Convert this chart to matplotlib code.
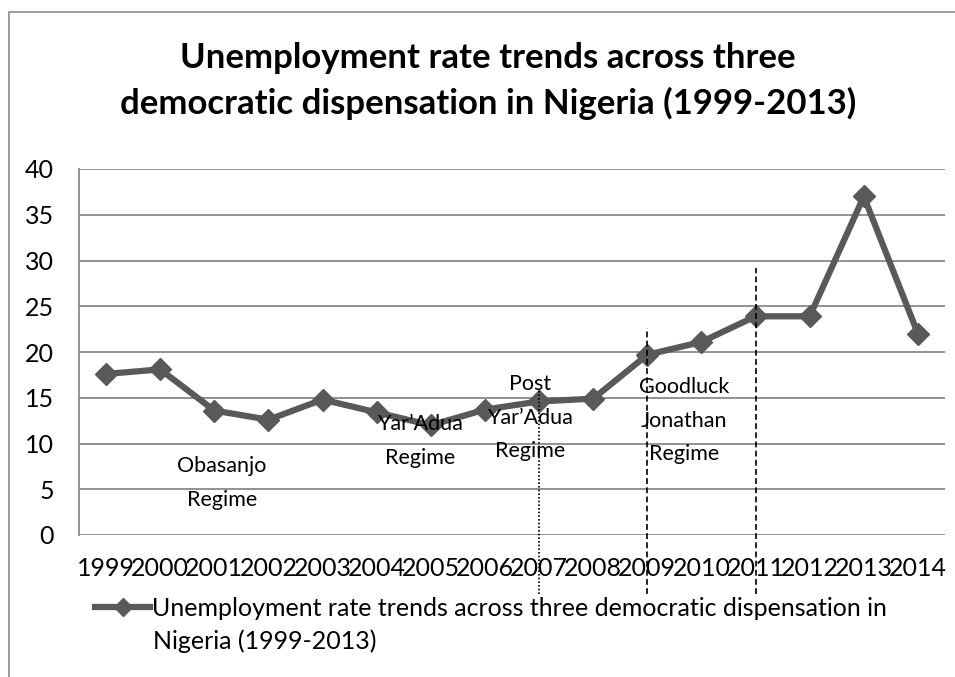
import numpy as np
import matplotlib
matplotlib.use("Agg")
import matplotlib.pyplot as plt
from matplotlib.lines import Line2D
from matplotlib.patches import Rectangle

# --- data ---
years = [str(y) for y in range(1999, 2015)]
unemployment = [17.6, 18.1, 13.6, 12.6, 14.8, 13.4, 12.0, 13.7,
                14.6, 14.9, 19.7, 21.1, 23.9, 23.9, 37.0, 22.0]
y_ticks = [0, 5, 10, 15, 20, 25, 30, 35, 40]

title = ("Unemployment rate trends across three\n"
         "democratic dispensation in Nigeria (1999-2013)")
series_name = ("Unemployment rate trends across three democratic dispensation in",
               "Nigeria (1999-2013)")

# regime labels (x index, y value, text)
regimes = [(2.14, 5.7, "Obasanjo\nRegime"),
           (5.8, 10.3, "Yar\u2019Adua\nRegime"),
           (7.84, 12.8, "Post\nYar\u2019Adua\nRegime"),
           (10.68, 12.5, "Goodluck\nJonathan\nRegime")]

# regime boundary markers (x index, top value, style)
boundaries = [(8, 15.8, (0, (1, 1.2))),
              (10, 22.6, (0, (3.5, 2))),
              (12, 29.2, (0, (3.5, 2)))]

plt.rcParams['font.family'] = ['Lato', 'DejaVu Sans']

LINE_COL = '#595959'
GRID_COL = '#898989'

fig = plt.figure(figsize=(9.55, 6.77), dpi=100)
ax = fig.add_axes([79 / 955, 1 - 535 / 677, 866 / 955, 366 / 677])

x = np.arange(len(years))
ax.plot(x, unemployment, color=LINE_COL, lw=4.5, marker='D', ms=11,
        markeredgecolor=LINE_COL, markerfacecolor=LINE_COL, zorder=3)

ax.set_xlim(-0.5, len(years) - 0.5)
ax.set_ylim(0, 40)
ax.set_yticks(y_ticks)
ax.set_xticks(x)
ax.set_xticklabels(years)
ax.tick_params(axis='both', length=0, labelsize=18, colors='black')
ax.tick_params(axis='y', pad=18)
ax.tick_params(axis='x', pad=16)

ax.grid(axis='y', color=GRID_COL, lw=1.3)
ax.set_axisbelow(True)
for side in ['top', 'right', 'bottom']:
    ax.spines[side].set_visible(False)
ax.spines['left'].set_color(GRID_COL)
ax.spines['left'].set_linewidth(1.3)

for xi, yv, txt in regimes:
    ax.text(xi, yv, txt, ha='center', va='center', fontsize=15.5,
            linespacing=1.85, zorder=4)

for xi, top, ls in boundaries:
    ax.plot([xi, xi], [-6.5, top], color='black', lw=1.2, ls=ls,
            clip_on=False, zorder=5)

fig.text(488 / 955, 1 - 81 / 677, title, ha='center', va='center',
         fontsize=25, fontweight='bold', linespacing=1.5)

# legend
handle = Line2D([], [], color=LINE_COL, lw=4.5, marker='D', ms=9)
fig.legend([handle], [series_name[0]], loc='center left',
           bbox_to_anchor=(95 / 955, 1 - 608 / 677), frameon=False,
           fontsize=18, handlelength=2.2, handletextpad=0.1, borderpad=0,
           borderaxespad=0)
fig.text(153 / 955, 1 - 641 / 677, series_name[1], ha='left', va='center',
         fontsize=18)

# outer chart border
fig.add_artist(Rectangle((9 / 955, 0 - 0.05), 1.1, 1 - 12 / 677 + 0.05,
                         transform=fig.transFigure, fill=False,
                         edgecolor='#8c8c8c', lw=1.2))

fig.savefig('out.png', dpi=100)
